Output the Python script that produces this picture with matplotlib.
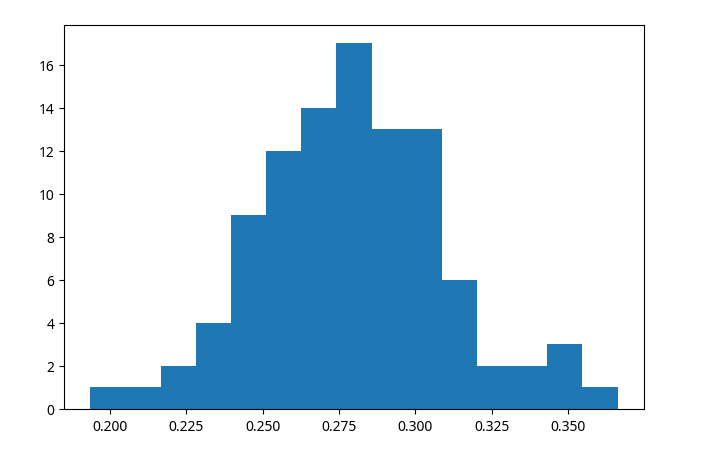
import numpy as np
import matplotlib
matplotlib.use("Agg")
import matplotlib.pyplot as plt

plt.rcParams["font.family"] = ["Noto Sans", "DejaVu Sans"]

# histogram
bin_start = 0.1937
bin_end = 0.3661
counts = [1, 1, 2, 4, 9, 12, 14, 17, 13, 13, 6, 2, 2, 3, 1]

edges = np.linspace(bin_start, bin_end, len(counts) + 1)
centers = (edges[:-1] + edges[1:]) / 2

fig = plt.figure(figsize=(7.01, 4.52), dpi=100)
fig.subplots_adjust(left=64 / 701, right=644 / 701, top=1 - 26 / 452, bottom=1 - 410 / 452)
ax = fig.add_subplot(1, 1, 1)

ax.hist(centers, bins=edges, weights=counts, color="#1f77b4")

ax.set_xticks([0.200, 0.225, 0.250, 0.275, 0.300, 0.325, 0.350])
ax.set_xticklabels(["0.200", "0.225", "0.250", "0.275", "0.300", "0.325", "0.350"])
ax.set_yticks(range(0, 17, 2))

plt.savefig("out.png", dpi=100)
